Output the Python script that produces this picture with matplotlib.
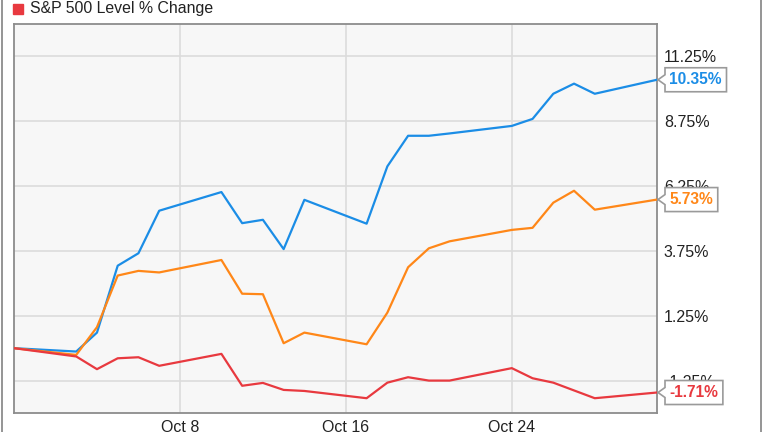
import numpy as np
import matplotlib
matplotlib.use("Agg")
import matplotlib.pyplot as plt
import matplotlib.dates as mdates
from matplotlib.patches import Polygon
from matplotlib.transforms import IdentityTransform
import datetime as dt

plt.rcParams['font.family'] = ['Liberation Sans', 'DejaVu Sans']

dates = ['2016-09-30', '2016-10-03', '2016-10-04', '2016-10-05', '2016-10-06', '2016-10-07',
         '2016-10-10', '2016-10-11', '2016-10-12', '2016-10-13', '2016-10-14',
         '2016-10-17', '2016-10-18', '2016-10-19', '2016-10-20', '2016-10-21',
         '2016-10-24', '2016-10-25', '2016-10-26', '2016-10-27', '2016-10-28', '2016-10-31']
blue_vals = [0, -0.13, 0.60, 3.18, 3.66, 5.30, 6.02, 4.82, 4.95, 3.82, 5.72,
             4.80, 7.01, 8.19, 8.19, 8.28, 8.57, 8.84, 9.81, 10.20, 9.81, 10.35]
orange_vals = [0, -0.26, 0.81, 2.80, 2.98, 2.92, 3.40, 2.10, 2.08, 0.19, 0.60,
               0.15, 1.37, 3.12, 3.85, 4.12, 4.56, 4.64, 5.61, 6.07, 5.34, 5.73]
red_vals = [0, -0.32, -0.81, -0.39, -0.35, -0.68, -0.22, -1.45, -1.34, -1.61, -1.65,
            -1.93, -1.33, -1.12, -1.25, -1.25, -0.77, -1.16, -1.33, -1.63, -1.93, -1.71]
yticks = [-1.25, 1.25, 3.75, 6.25, 8.75, 11.25]
xtick_dates = ['2016-10-08', '2016-10-16', '2016-10-24']
xtick_labels = ['Oct 8', 'Oct 16', 'Oct 24']
legend_label = 'S&P 500 Level % Change'

c_blue = '#1b8de6'
c_orange = '#ff8718'
c_red = '#e8393f'

x = [dt.datetime.strptime(d, '%Y-%m-%d') for d in dates]

fig = plt.figure(figsize=(7.64, 4.32), dpi=100)
W, H = 764, 432
ax = fig.add_axes([14 / W, (H - 413) / H, (657 - 14) / W, (413 - 24) / H])
ax.set_facecolor('#f7f7f7')

ax.plot(x, blue_vals, color=c_blue, lw=1.6, zorder=3)
ax.plot(x, orange_vals, color=c_orange, lw=1.6, zorder=3)
ax.plot(x, red_vals, color=c_red, lw=1.6, zorder=3)

ax.set_xlim(x[0], x[-1])
ax.set_ylim(-2.5, 12.5)
ax.yaxis.tick_right()
ax.set_yticks(yticks)
ax.set_yticklabels(['%.2f%%' % v for v in yticks])
ax.set_xticks([dt.datetime.strptime(d, '%Y-%m-%d') for d in xtick_dates])
ax.set_xticklabels(xtick_labels)
ax.tick_params(axis='both', length=0, labelsize=11.5, colors='#222222')
ax.tick_params(axis='y', pad=5)
ax.tick_params(axis='x', pad=5)
ax.grid(True, color='#dcdcdc', lw=1.2)
ax.set_axisbelow(True)
for s in ax.spines.values():
    s.set_color('#8c8c8c')
    s.set_linewidth(1.3)

# legend (top left)
fig.patches.append(plt.Rectangle((13 / W, (H - 14) / H), 10 / W, 10 / H, color=c_red,
                                 transform=fig.transFigure, figure=fig))
fig.text(30 / W, (H - 9) / H, legend_label, fontsize=11.4, va='center', ha='left', color='#222222')

# outer frame lines
fig.add_artist(plt.Line2D([1.5 / W, 1.5 / W], [0, 1], color='#8c8c8c', lw=1.3))
fig.add_artist(plt.Line2D([761 / W, 761 / W], [0, 1], color='#8c8c8c', lw=1.3))

# end-value callouts
fig.canvas.draw()
renderer = fig.canvas.get_renderer()
for vals, col in [(blue_vals, c_blue), (orange_vals, c_orange), (red_vals, c_red)]:
    v = vals[-1]
    px, py = ax.transData.transform((mdates.date2num(x[-1]), v))
    t = ax.text(669, py, '%.2f%%' % v, transform=IdentityTransform(), fontsize=11.2,
                fontweight='bold', color=col, va='center', ha='left', zorder=11, clip_on=False)
    bb = t.get_window_extent(renderer)
    x0, x1 = 665, bb.x1 + 5
    h = 12
    pts = [(x0, py + h), (x1, py + h), (x1, py - h), (x0, py - h), (x0, py - 5),
           (px + 1, py), (x0, py + 5)]
    poly = Polygon(pts, closed=True, facecolor='white', edgecolor='#9a9a9a', lw=1.2,
                   transform=IdentityTransform(), zorder=10, clip_on=False)
    ax.add_artist(poly)

fig.savefig('out.png', dpi=100)
